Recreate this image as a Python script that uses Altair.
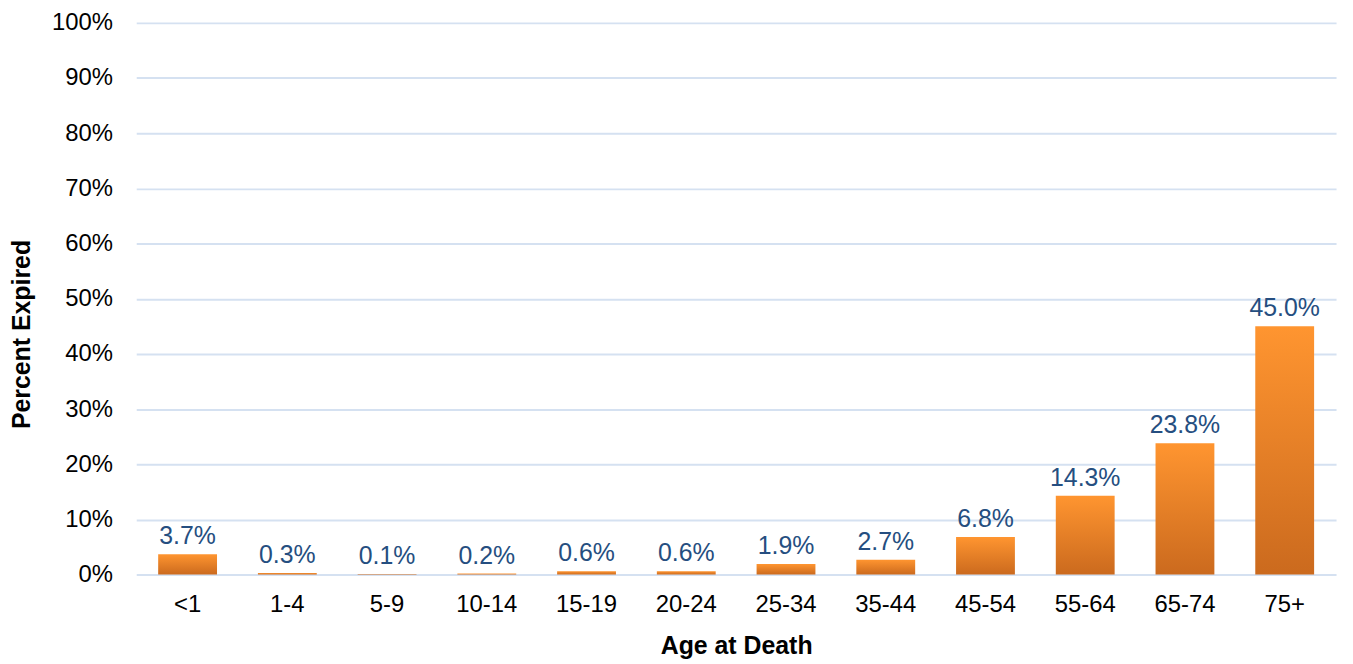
import altair as alt
import pandas as pd

ages = ["<1", "1-4", "5-9", "10-14", "15-19", "20-24", "25-34", "35-44", "45-54", "55-64", "65-74", "75+"]
percents = [3.7, 0.3, 0.1, 0.2, 0.6, 0.6, 1.9, 2.7, 6.8, 14.3, 23.8, 45.0]
labels = [f"{v:.1f}%" for v in percents]

df = pd.DataFrame({"age": ages, "pct": [v / 100 for v in percents], "label": labels})

FONT = "Liberation Sans"

x = alt.X("age:N", sort=ages, title="Age at Death",
          scale=alt.Scale(paddingInner=0.41, paddingOuter=0.22),
          axis=alt.Axis(labelAngle=0, labelFontSize=24, labelColor="#000000", labelFont=FONT,
                        titleFontSize=25, titleFont=FONT, titleFontWeight="bold", titleColor="#000000",
                        titlePadding=17, labelPadding=18, ticks=False, domain=False, grid=False))
y = alt.Y("pct:Q", title="Percent Expired",
          scale=alt.Scale(domain=[0, 1], nice=False),
          axis=alt.Axis(format=".0%", values=[i / 10 for i in range(11)], labelFontSize=24,
                        labelColor="#000000", labelFont=FONT, titleFontSize=25, titleFont=FONT,
                        titleFontWeight="bold", titleColor="#000000",
                        titleX=-115, titleY=313, titleBaseline="middle", titleAnchor="middle",
                        labelPadding=24, ticks=False, domain=False, grid=True,
                        gridColor="#D5E1F1", gridWidth=2))

bars = alt.Chart(df).mark_bar(
    color=alt.Gradient(gradient="linear", x1=0, x2=0, y1=0, y2=1,
                       stops=[alt.GradientStop(color="#FF9530", offset=0),
                              alt.GradientStop(color="#CB6A1E", offset=1)])
).encode(x=x, y=y)

text = alt.Chart(df).mark_text(baseline="alphabetic", dy=-10, fontSize=25, font=FONT, color="#254E80").encode(
    x=alt.X("age:N", sort=ages), y=alt.Y("pct:Q"), text="label:N")

chart = alt.layer(bars, text).properties(
    width=1207, height=555,
    autosize=alt.AutoSizeParams(type="none"),
    padding={"left": 129, "top": 13, "right": 9, "bottom": 88},
).configure_view(stroke=None)

chart.save("out.html", embed_options={"renderer": "svg", "actions": False})
